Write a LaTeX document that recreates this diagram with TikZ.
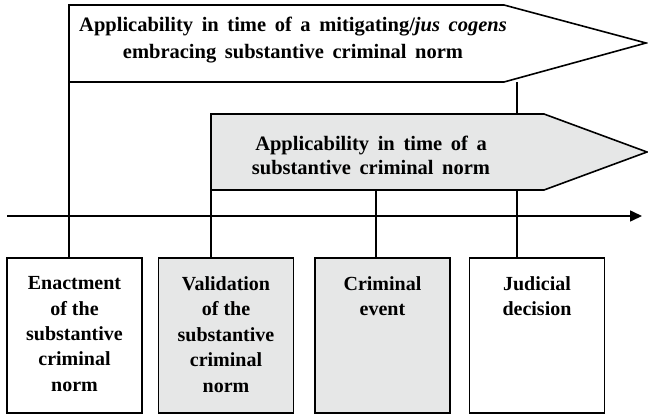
\documentclass[tikz,border=0pt]{standalone}
\usepackage{fontspec}
\setmainfont{Liberation Serif}
\usetikzlibrary{arrows.meta}
\definecolor{lightfill}{HTML}{E6E7E7}
\newcommand{\widewordspace}{\spaceskip=0.42em plus 0.1em\relax}
\begin{document}
\begin{tikzpicture}[x=1pt,y=-1pt,
  outline/.style={draw=black,line width=1.6pt,line join=miter},
  label text/.style={font=\bfseries\fontsize{20}{25.5}\selectfont,align=center,inner sep=0pt},
  period text/.style={align=center,inner sep=0pt,font={\bfseries\fontsize{20.5}{#1}\selectfont\widewordspace}},
  eventbox/.style={outline,minimum width=135pt,minimum height=155pt,inner sep=0pt},
  link/.style={draw=black,line width=1.6pt}]
\useasboundingbox (0,0) rectangle (648,415);

% outer applicability period
\path[outline,fill=white] (69,5) -- (504,5) -- (646,43) -- (504,82) -- (69,82) -- cycle;
\node[period text=27] (outer) at (293,40) {Applicability in time of a mitigating/\textit{jus cogens}\\embracing substantive criminal norm};
\coordinate (o1) at (69,82);
\coordinate (o2) at (517,82);

% events on the time line
\node[eventbox,fill=white]     (b1) at (74.5,335.5) {};
\node[eventbox,fill=lightfill] (b2) at (226,335.5) {};
\node[eventbox,fill=lightfill] (b3) at (382.5,335.5) {};
\node[eventbox,fill=white]     (b4) at (537,335.5) {};

\draw[link] (o1) -- (o1 |- b1.north);
\draw[link] (o2) -- (o2 |- b4.north);

% inner applicability period
\path[outline,fill=lightfill] (211,114) -- (544,114) -- (647,152) -- (544,190) -- (211,190) -- cycle;
\node[period text=24] (inner) at (371,155.5) {Applicability in time of a\\substantive criminal norm};
\coordinate (i1) at (211,190);
\coordinate (i2) at (376,190);
\draw[link] (i1) -- (i1 |- b2.north);
\draw[link] (i2) -- (i2 |- b3.north);

% time axis
\coordinate (ax0) at (7,216);
\coordinate (ax1) at (642,216);
\draw[link,-{Triangle[length=12pt,width=11pt]}] (ax0) -- (ax1);

% event labels
\node[label text,anchor=north] (t1) at ([yshift=-19pt]b1.north) {Enactment\\of the\\substantive\\criminal\\norm};
\node[label text,anchor=north] (t2) at ([yshift=-19pt]b2.north) {Validation\\of the\\substantive\\criminal\\norm};
\node[label text,anchor=north] (t3) at ([yshift=-19pt]b3.north) {Criminal\\event};
\node[label text,anchor=north] (t4) at ([yshift=-19pt]b4.north) {Judicial\\decision};
\end{tikzpicture}
\end{document}
